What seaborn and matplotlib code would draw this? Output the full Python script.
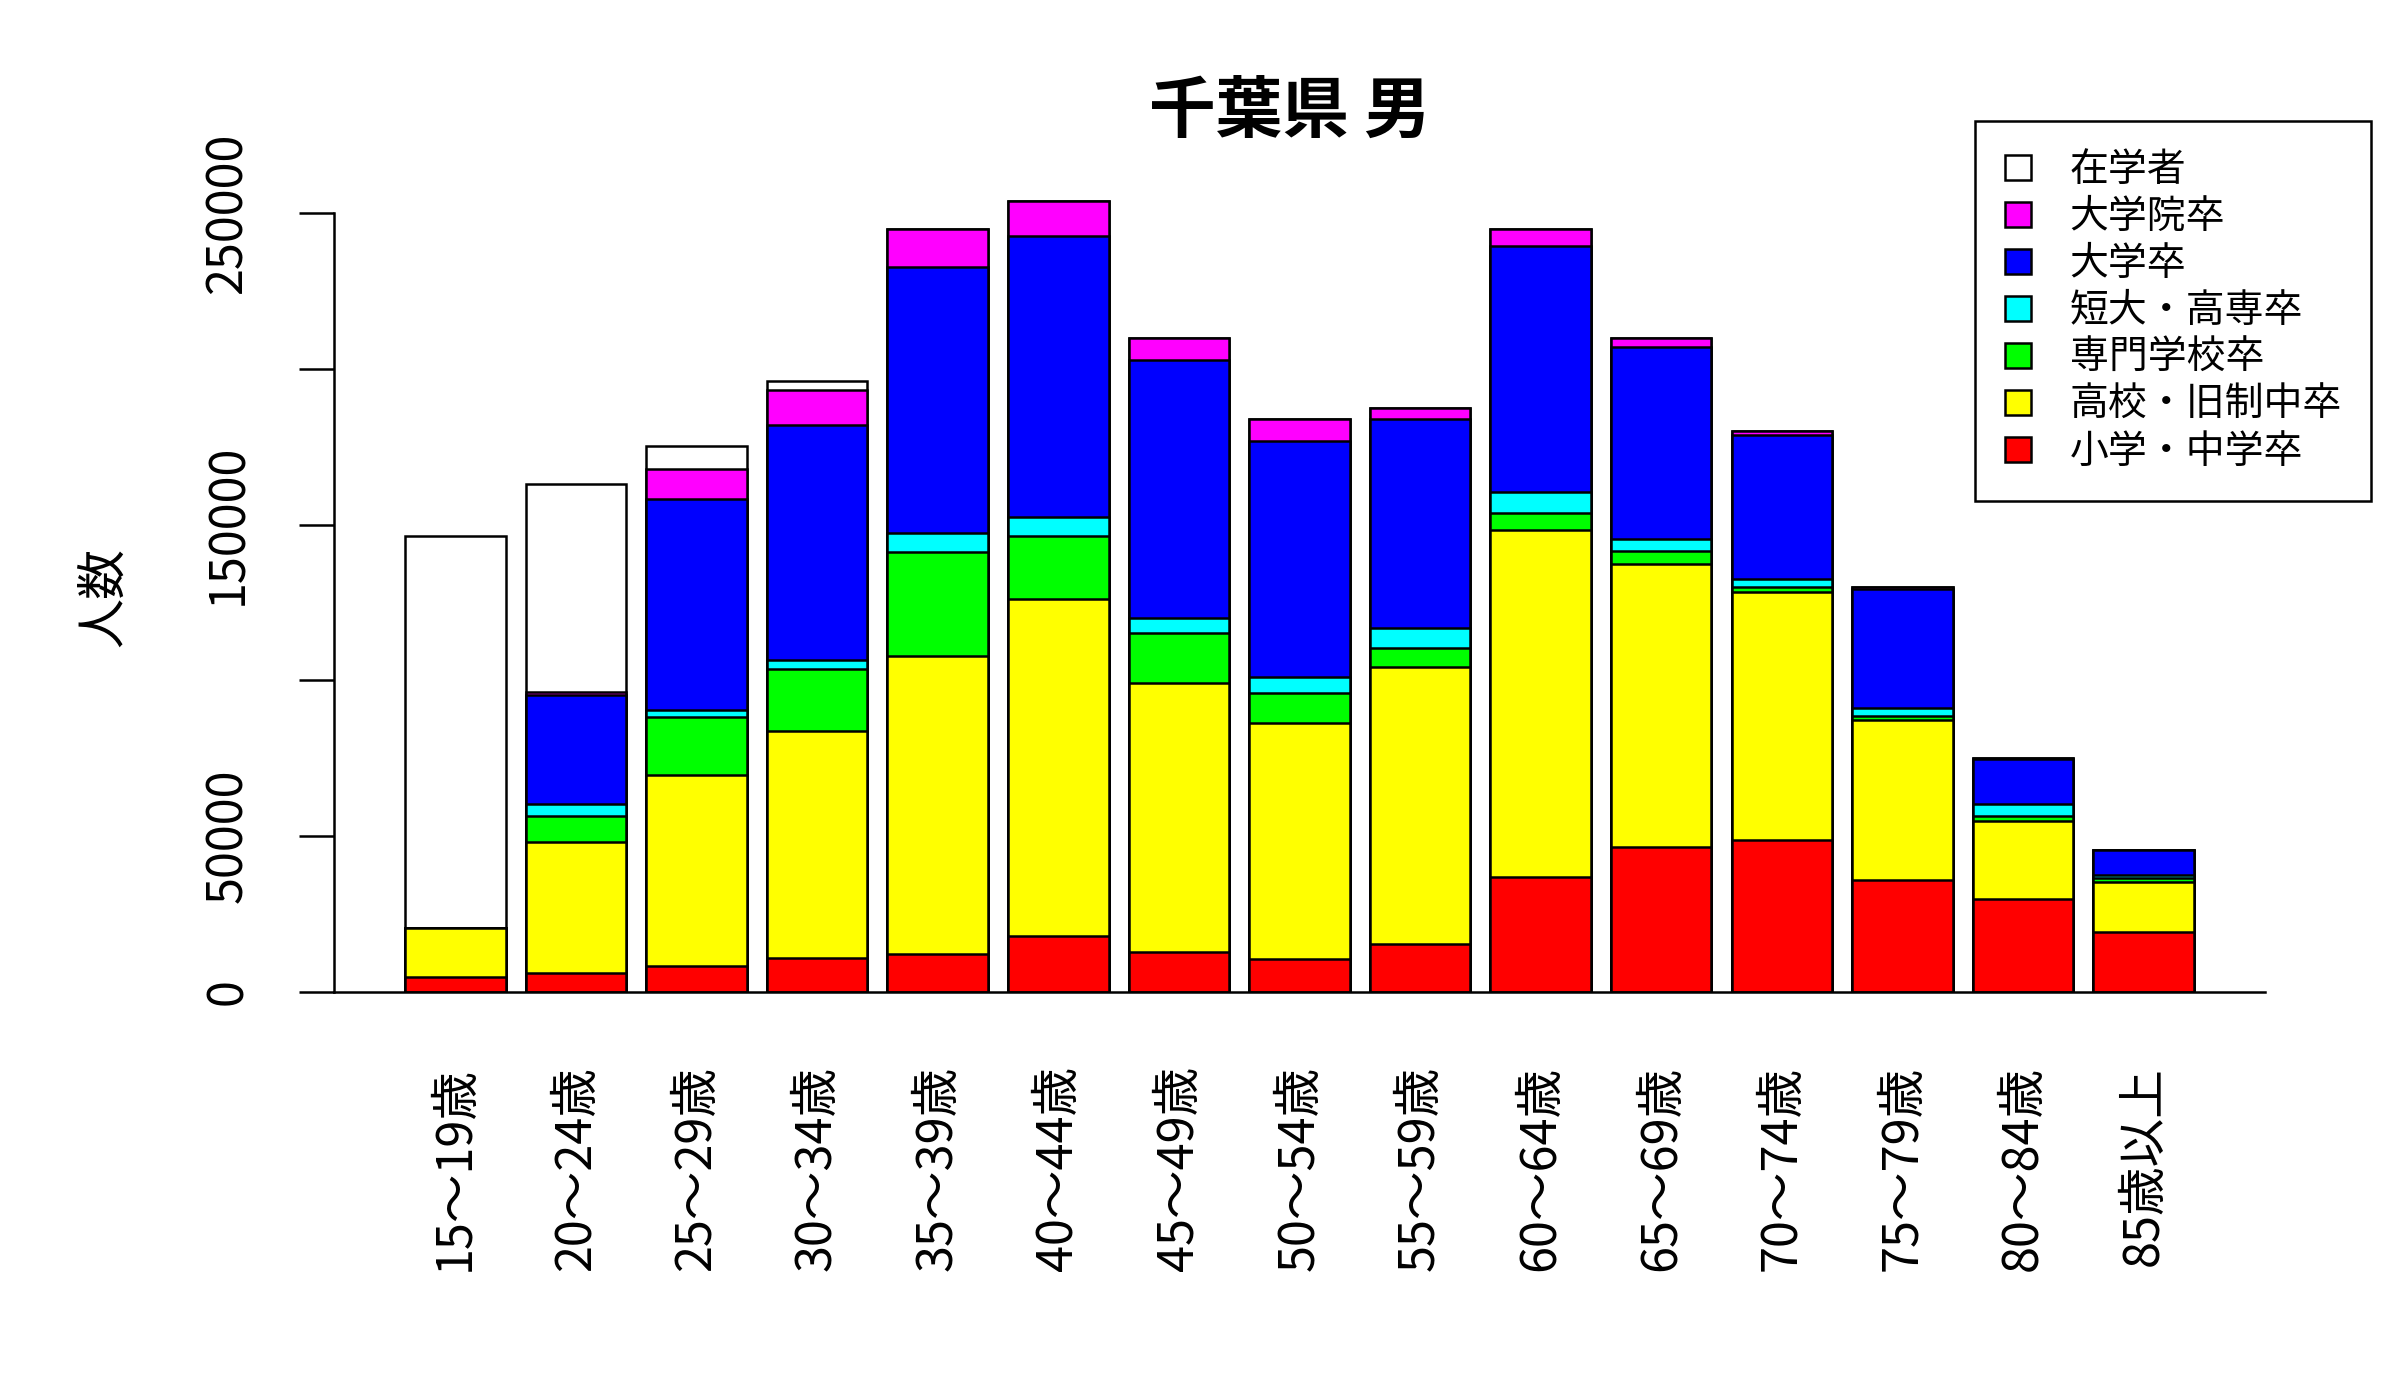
import matplotlib
matplotlib.use("Agg")
import matplotlib.pyplot as plt
from matplotlib.patches import Patch
import numpy as np
import pandas as pd
import seaborn as sns

# age groups (x axis)
ages = ["15～19歳", "20～24歳", "25～29歳", "30～34歳", "35～39歳", "40～44歳",
        "45～49歳", "50～54歳", "55～59歳", "60～64歳", "65～69歳", "70～74歳",
        "75～79歳", "80～84歳", "85歳以上"]

# persons by final education (bottom -> top)
shogaku_chugaku = [4700, 6000, 8500, 10900, 12200, 17900, 12800, 10700, 15500,
                   36800, 46400, 48800, 36100, 29700, 19200]
koko_kyusei = [16000, 42300, 61000, 72700, 95700, 108200, 86300, 75600, 88900,
               111400, 91000, 79700, 51300, 25200, 16100]
senmon = [0, 8300, 18800, 20200, 33300, 20100, 16000, 9600, 6100,
          5400, 4100, 1400, 1300, 1500, 1200]
tandai_kosen = [0, 3600, 2300, 2800, 6200, 6100, 4800, 5300, 6400,
                6700, 3900, 2500, 2500, 3800, 1100]
daigaku = [0, 35100, 67700, 75400, 85100, 90200, 82900, 75700, 66900,
           79000, 61700, 46200, 38100, 14600, 7900]
daigakuin = [0, 1100, 9600, 11200, 12200, 11300, 7000, 6900, 3600,
             5400, 2700, 1300, 800, 300, 200]
zaigaku = [125500, 66600, 7300, 2700, 0, 0, 0, 0, 0,
           0, 0, 0, 0, 0, 0]

series_names = ["小学・中学卒", "高校・旧制中卒", "専門学校卒", "短大・高専卒",
                "大学卒", "大学院卒", "在学者"]
series_vals = [shogaku_chugaku, koko_kyusei, senmon, tandai_kosen,
               daigaku, daigakuin, zaigaku]
colors = ["#FF0000", "#FFFF00", "#00FF00", "#00FFFF", "#0000FF", "#FF00FF", "#FFFFFF"]

sns.set_style("white")
plt.rcParams["font.family"] = ["Noto Sans CJK JP", "DejaVu Sans"]
plt.rcParams["text.color"] = "black"
plt.rcParams["xtick.color"] = "black"
plt.rcParams["ytick.color"] = "black"
plt.rcParams["axes.labelcolor"] = "black"

df = pd.DataFrame(dict(zip(series_names, series_vals)), index=ages)
cum = df.cumsum(axis=1)

fig = plt.figure(figsize=(24, 14), dpi=100)
ax = fig.add_axes([0.139, 0.2914, 0.8049, 0.6014])

# stacked bars: draw cumulative totals from the top layer down
for name, col in reversed(list(zip(series_names, colors))):
    sns.barplot(x=ages, y=cum[name].values, order=ages, color=col,
                saturation=1, width=1 / 1.2, edgecolor="black",
                linewidth=1.8, ax=ax)

ax.set_xlim(-1.01, 15.01)
ax.set_ylim(0, 270150)

ax.set_yticks([0, 50000, 100000, 150000, 200000, 250000])
ax.set_yticklabels(["0", "50000", "", "150000", "", "250000"],
                   rotation=90, va="center", fontsize=35)
ax.tick_params(axis="y", length=25, width=1.8, pad=33, left=True)
ax.set_xticks(range(len(ages)))
ax.set_xticklabels(ages, rotation=90, va="top", ha="center", fontsize=35)
ax.tick_params(axis="x", length=0, pad=53)
ax.set_xlabel("")
ax.set_ylabel("")

for s in ["top", "right"]:
    ax.spines[s].set_visible(False)
ax.spines["left"].set_bounds(0, 250000)
for s in ["left", "bottom"]:
    ax.spines[s].set_linewidth(1.8)
    ax.spines[s].set_color("black")

fig.text(0.5375, 1 - 112 / 1400, "千葉県 男", ha="center", va="center",
         fontsize=48, fontweight="bold")
fig.text(104 / 2400, 1 - 597 / 1400, "人数", rotation=90, ha="center",
         va="center", fontsize=36)

handles = [Patch(facecolor=c, edgecolor="black", linewidth=1.8)
           for c in reversed(colors)]
leg = fig.legend(handles, list(reversed(series_names)), loc="upper right",
                 bbox_to_anchor=(2371 / 2400, 1 - 121 / 1400),
                 bbox_transform=fig.transFigure, borderaxespad=0,
                 fontsize=28, fancybox=False, framealpha=1,
                 handlelength=0.67, handleheight=0.6, handletextpad=1.0,
                 labelspacing=0.18, borderpad=0.75)
leg.get_frame().set_edgecolor("black")
leg.get_frame().set_linewidth(1.8)

fig.savefig("out.png", dpi=100)
